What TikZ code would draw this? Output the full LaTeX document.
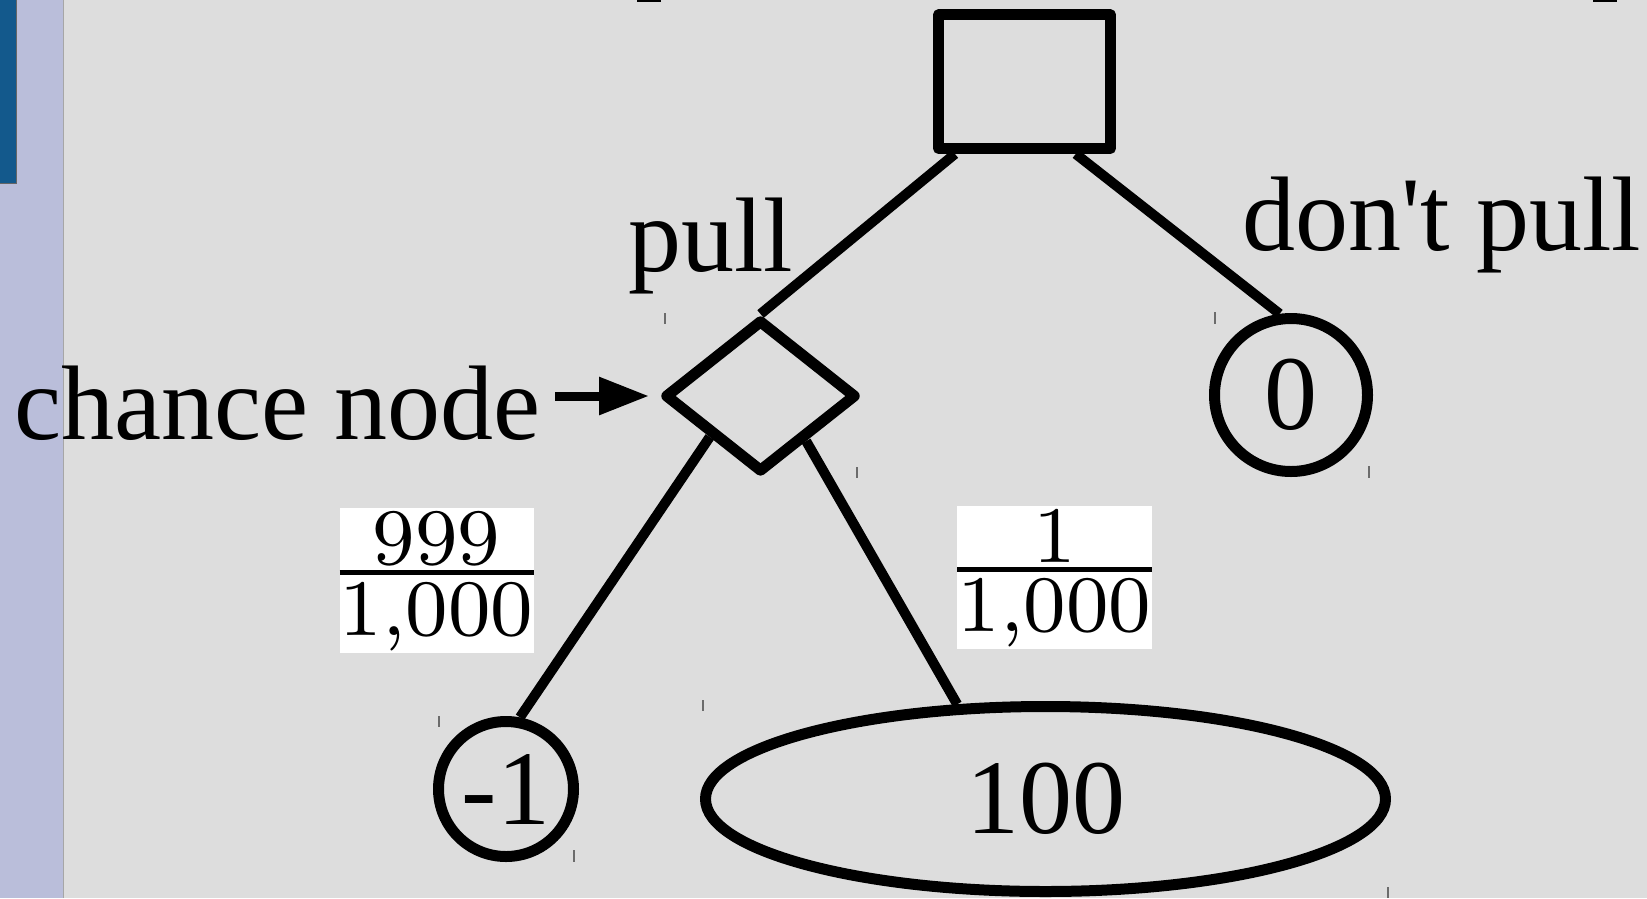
\documentclass[tikz,border=0pt]{standalone}
\usepackage{fontspec}
\usetikzlibrary{shapes.geometric,arrows.meta,calc}
\newfontfamily\libfont{Liberation Serif}
\newfontfamily\lmfont{lmroman8-regular.otf}
\definecolor{bgray}{HTML}{DDDDDD}
\definecolor{lav}{HTML}{BABEDA}
\definecolor{dblue}{HTML}{13598C}
\definecolor{tickgray}{HTML}{6B6B6B}
\newcommand\fracbox[3]{% width, numerator, denominator
  \vbox{\offinterlineskip\lmfont\fontsize{80}{80}\selectfont
    \kern3pt
    \hbox to #1{\hss#2\hss}%
    \kern4pt
    \hrule height 5pt
    \kern7pt
    \hbox to #1{\hss#3\hss}%
    \kern1.5pt}}
\begin{document}
\begin{tikzpicture}[x=1pt,y=-1pt,
  shp/.style={draw=black, line width=11pt, line join=round, inner sep=0pt,
    font=\libfont\fontsize{106}{106}\selectfont},
  conn/.style={draw=black, line width=10pt},
  lbl/.style={inner sep=0pt, font=\libfont\fontsize{106}{106}\selectfont},
  frc/.style={fill=white, inner sep=0pt},
  tick/.style={draw=tickgray, line width=1.2pt},
  pointer/.style={draw=black, line width=9pt, -{Triangle[length=50pt,width=36pt]}}]
\useasboundingbox (0,0) rectangle (1647,898);
% background
\fill[bgray] (0,0) rectangle (1647,898);
\fill[lav] (0,0) rectangle (63,898);
\draw[gray!70, line width=1pt] (63.5,0) -- (63.5,898);
\fill[dblue] (0,0) rectangle (16,183);
\draw[gray!80!black, line width=0.8pt] (16,0) -- (16,183) -- (0,183);
\fill[black] (637,0) rectangle (661,2);
\fill[black] (1593,0) rectangle (1617,2);
% shapes
\node[shp, rectangle, minimum width=172pt, minimum height=133.5pt] (r) at (1024.5,81.7) {};
\node[shp, diamond, minimum width=192pt, minimum height=153pt] (d) at (760.5,396) {};
\node[shp, circle, minimum size=153pt] (c0) at (1291,395) {0};
\node[shp, circle, minimum size=135pt] (m1) at (506,789) {-1};
\node[shp, ellipse, minimum width=680pt, minimum height=185pt] (e) at (1045.5,799) {100};
% labels
\node[lbl, anchor=base west] (pl) at (628,271) {pull};
\node[lbl, anchor=base west] (dp) at (1242,250) {don't pull};
\node[lbl, anchor=base west] (cn) at (14,439) {chance node};
\node[frc] (f1) at (436.5,580.5) {\fracbox{194pt}{999}{1,000}};
\node[frc] (f2) at (1054.5,577.5) {\fracbox{195pt}{1}{1,000}};
% connectors
\draw[conn] ($(r.south west)!0.12!(r.south east)$) -- (d.north);
\draw[conn] ($(r.south west)!0.78!(r.south east)$) -- (c0.98);
\draw[conn] ($(d.west)!0.5!(d.south)$) -- (m1.79);
\draw[conn] ($(d.south)!0.45!(d.east)$) -- (e.133);
\draw[pointer, shorten <=14pt, shorten >=10pt] (cn.east |- d.west) -- (d.west);
% bounding-box ticks
\draw[tick] (665,313) -- (665,324);
\draw[tick] (857,467) -- (857,478);
\draw[tick] (1215,312) -- (1215,324);
\draw[tick] (1369,466) -- (1369,478);
\draw[tick] (439,716) -- (439,727);
\draw[tick] (574,850) -- (574,862);
\draw[tick] (703,700) -- (703,711);
\draw[tick] (1388,887) -- (1388,898);
\end{tikzpicture}
\end{document}
